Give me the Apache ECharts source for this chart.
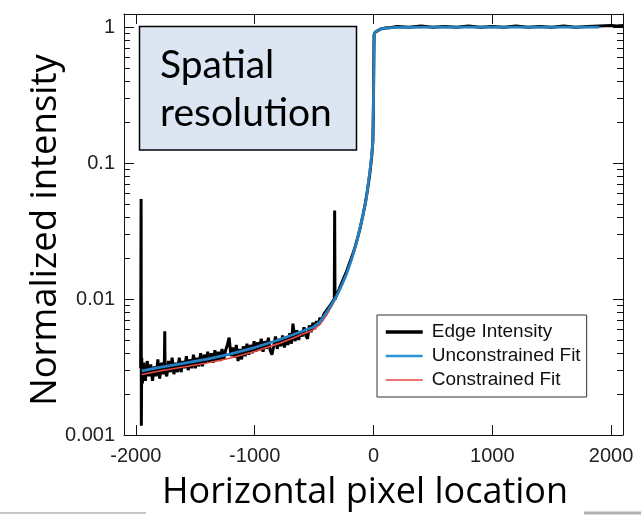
<!DOCTYPE html>
<html>
<head>
<meta charset="utf-8">
<script src="https://cdn.jsdelivr.net/npm/echarts@6/dist/echarts.min.js"></script>
<style>
  html, body { margin: 0; background: #fff; }
  #chart { width: 641px; height: 516px; }
</style>
</head>
<body>
<div id="chart"></div>
<script>
// tick positions
const xTicks = [-2000, -1000, 0, 1000, 2000];
const yTicks = [0.001, 0.01, 0.1, 1];
const yMinorTicks = [
  0.002, 0.003, 0.004, 0.005, 0.006, 0.007, 0.008, 0.009,
  0.02, 0.03, 0.04, 0.05, 0.06, 0.07, 0.08, 0.09,
  0.2, 0.3, 0.4, 0.5, 0.6, 0.7, 0.8, 0.9
];

// measured edge profile [pixel, intensity]
const edgeIntensity = [
  [-1960, 0.0031], [-1956, 0.0545], [-1954, 0.00117], [-1951, 0.0037], [-1945, 0.0024],
  [-1935, 0.0034], [-1920, 0.0025], [-1905, 0.0035], [-1890, 0.0027], [-1875, 0.0033],
  [-1860, 0.0025], [-1845, 0.0032], [-1830, 0.0027], [-1815, 0.0036], [-1800, 0.0026],
  [-1785, 0.0034], [-1770, 0.0028], [-1760, 0.0035], [-1757, 0.0058], [-1754, 0.0030],
  [-1740, 0.0027], [-1725, 0.0035], [-1710, 0.0029], [-1695, 0.0037], [-1680, 0.0028],
  [-1665, 0.0034], [-1650, 0.0029], [-1635, 0.0037], [-1620, 0.0029], [-1605, 0.0035],
  [-1590, 0.0031], [-1575, 0.0038], [-1560, 0.0030], [-1545, 0.0036], [-1530, 0.0031],
  [-1515, 0.0039], [-1500, 0.0031], [-1485, 0.0037], [-1470, 0.0032], [-1455, 0.0040],
  [-1440, 0.0032], [-1425, 0.0039], [-1410, 0.0034], [-1395, 0.0041], [-1380, 0.0034],
  [-1365, 0.0040], [-1350, 0.0034], [-1335, 0.0042], [-1320, 0.0035], [-1305, 0.0041],
  [-1290, 0.0035], [-1275, 0.0043], [-1260, 0.0036], [-1245, 0.0042], [-1230, 0.0046],
  [-1215, 0.0052], [-1200, 0.0038], [-1185, 0.0044], [-1170, 0.0037], [-1155, 0.0046],
  [-1140, 0.0035], [-1125, 0.0043], [-1110, 0.0036], [-1095, 0.0045], [-1080, 0.0038],
  [-1065, 0.0047], [-1050, 0.0039], [-1035, 0.0046], [-1020, 0.0040], [-1005, 0.0049],
  [-990, 0.0041], [-975, 0.0048], [-960, 0.0042], [-945, 0.0051], [-930, 0.0041],
  [-915, 0.0049], [-900, 0.0043], [-885, 0.0052], [-870, 0.0042], [-855, 0.0039],
  [-840, 0.0045], [-825, 0.0053], [-810, 0.0043], [-795, 0.0051], [-780, 0.0045],
  [-765, 0.0054], [-750, 0.0044], [-735, 0.0052], [-720, 0.0046], [-705, 0.0056],
  [-690, 0.0047], [-678, 0.0066], [-660, 0.0049], [-645, 0.0059], [-630, 0.0050],
  [-615, 0.0058], [-600, 0.0053], [-585, 0.0062], [-570, 0.0054], [-555, 0.0051],
  [-540, 0.0064], [-525, 0.0057], [-510, 0.0067], [-495, 0.0060], [-480, 0.0069],
  [-465, 0.0064], [-450, 0.0073], [-435, 0.0069], [-420, 0.0077], [-405, 0.0076],
  [-390, 0.0084], [-375, 0.0083], [-360, 0.0091], [-345, 0.0091], [-330, 0.0100],
  [-327, 0.0448], [-324, 0.0099], [-310, 0.0108], [-290, 0.0118], [-270, 0.0130],
  [-250, 0.0143], [-230, 0.0157], [-210, 0.0176], [-190, 0.0196], [-170, 0.0220],
  [-150, 0.0250], [-130, 0.0290], [-110, 0.0340], [-90, 0.0410], [-70, 0.0500],
  [-50, 0.0640], [-30, 0.0850], [-15, 0.112], [-5, 0.145], [0, 0.30],
  [3, 0.62], [5, 0.88], [15, 0.92], [30, 0.95], [60, 0.97],
  [100, 0.985], [150, 0.995], [200, 1.01], [300, 1.0], [400, 1.02],
  [500, 1.0], [600, 1.01], [700, 1.0], [800, 1.02], [900, 1.0],
  [1000, 1.01], [1100, 1.0], [1200, 1.02], [1300, 1.0], [1400, 1.01],
  [1500, 1.0], [1600, 1.02], [1700, 1.0], [1800, 1.01], [1900, 1.02],
  [2000, 1.03], [2050, 1.02], [2100, 1.03]
];

const unconstrainedFit = [
  [-1950, 0.00296], [-1800, 0.00314], [-1600, 0.00337], [-1400, 0.00362], [-1200, 0.00395],
  [-1000, 0.0044], [-800, 0.0050], [-680, 0.00546], [-600, 0.0058], [-510, 0.0062],
  [-450, 0.0068], [-395, 0.0080], [-350, 0.0092], [-310, 0.0106], [-270, 0.0125],
  [-227, 0.0153], [-185, 0.0195], [-143, 0.026], [-115, 0.033], [-87, 0.042],
  [-60, 0.055], [-45, 0.070], [-30, 0.088], [-15, 0.115], [-5, 0.145],
  [0, 0.30], [3, 0.62], [5, 0.87], [15, 0.92], [30, 0.95],
  [60, 0.97], [100, 0.985], [200, 0.995], [500, 1.0], [1000, 1.0],
  [1500, 1.0], [1900, 1.0]
];

const constrainedFit = [
  [-1950, 0.00279], [-1800, 0.00296], [-1600, 0.00316], [-1400, 0.00339], [-1200, 0.00368],
  [-1000, 0.00412], [-800, 0.0047], [-680, 0.00515], [-600, 0.0055], [-510, 0.0059],
  [-450, 0.0065], [-395, 0.0076], [-350, 0.0089], [-310, 0.0104], [-270, 0.0124],
  [-227, 0.0152], [-185, 0.0194], [-143, 0.026], [-115, 0.033], [-87, 0.042],
  [-60, 0.055], [-45, 0.070], [-30, 0.088], [-15, 0.115], [-5, 0.145],
  [0, 0.30], [3, 0.62], [5, 0.87], [15, 0.92], [30, 0.95],
  [60, 0.97], [100, 0.985], [200, 0.995], [500, 1.0], [1000, 1.0],
  [1500, 1.0], [1900, 1.0]
];

const tickFont = 'Liberation Sans';
const titleFont = 'Open Sans';

function logAxis(position, opts) {
  return Object.assign({
    type: 'log',
    logBase: 10,
    min: 0.001,
    max: 1.25,
    position: position,
    axisLine: { show: true, onZero: false, lineStyle: { color: '#111', width: 1 } },
    splitLine: { show: false },
    axisLabel: { show: false },
    axisTick: { show: true, inside: true, length: 10, customValues: yTicks, lineStyle: { color: '#111' } }
  }, opts);
}

const chart = echarts.init(document.getElementById('chart'));

chart.setOption({
  animation: false,
  backgroundColor: '#fff',
  grid: { left: 124, right: 18, top: 14, bottom: 81, outerBoundsMode: 'none' },
  xAxis: [
    {
      type: 'value',
      min: -2100,
      max: 2100,
      position: 'bottom',
      name: 'Horizontal pixel location',
      nameLocation: 'middle',
      nameGap: 40,
      nameMoveOverlap: false,
      nameTextStyle: { fontFamily: titleFont, fontSize: 36, color: '#000', padding: [0, 17, 0, 0] },
      axisLine: { onZero: false, lineStyle: { color: '#111', width: 1 } },
      axisTick: { inside: true, length: 10, customValues: xTicks, lineStyle: { color: '#111' } },
      axisLabel: {
        customValues: xTicks,
        fontFamily: tickFont,
        fontSize: 20,
        color: '#222',
        margin: 11,
        formatter: (v) => String(v)
      },
      splitLine: { show: false }
    },
    {
      type: 'value',
      min: -2100,
      max: 2100,
      position: 'top',
      axisLine: { onZero: false, lineStyle: { color: '#111', width: 1 } },
      axisTick: { inside: true, length: 10, customValues: xTicks, lineStyle: { color: '#111' } },
      axisLabel: { show: false },
      splitLine: { show: false }
    }
  ],
  yAxis: [
    logAxis('left', {
      name: 'Normalized intensity',
      nameLocation: 'middle',
      nameGap: 60,
      nameMoveOverlap: false,
      nameTextStyle: { fontFamily: titleFont, fontSize: 36.5, color: '#000', padding: [0, 11, 0, 0] },
      axisLabel: {
        show: true,
        customValues: yTicks,
        fontFamily: tickFont,
        fontSize: 20,
        color: '#222',
        margin: 9,
        formatter: (v) => String(Number(v.toPrecision(3)))
      }
    }),
    logAxis('left', {
      axisLine: { show: false, onZero: false },
      axisTick: { show: true, inside: true, length: 6, customValues: yMinorTicks, lineStyle: { color: '#111' } }
    }),
    logAxis('right', {}),
    logAxis('right', {
      axisLine: { show: false, onZero: false },
      axisTick: { show: true, inside: true, length: 6, customValues: yMinorTicks, lineStyle: { color: '#111' } }
    })
  ],
  legend: {
    orient: 'vertical',
    left: 377,
    top: 315,
    padding: [5, 6, 5, 7],
    itemGap: 0,
    itemWidth: 37,
    itemHeight: 14,
    backgroundColor: '#fff',
    borderColor: '#333',
    borderWidth: 1,
    itemStyle: { opacity: 0 },
    textStyle: { fontFamily: tickFont, fontSize: 19, color: '#111', lineHeight: 24, padding: [0, 0, 0, 4] },
    data: [
      { name: 'Edge Intensity', lineStyle: { width: 3.5, color: '#000' } },
      { name: 'Unconstrained Fit', lineStyle: { width: 2.5, color: '#2a96d6' } },
      { name: 'Constrained Fit', lineStyle: { width: 2, color: '#f07070' } }
    ]
  },
  series: [
    {
      name: 'Edge Intensity',
      type: 'line',
      data: edgeIntensity,
      symbol: 'none',
      lineStyle: { color: '#000', width: 3 },
      itemStyle: { color: '#000' },
      z: 2
    },
    {
      name: 'Constrained Fit',
      type: 'line',
      data: constrainedFit,
      symbol: 'none',
      lineStyle: { color: '#ee4a44', width: 1.6 },
      itemStyle: { color: '#f07070' },
      z: 3
    },
    {
      name: 'Unconstrained Fit',
      type: 'line',
      data: unconstrainedFit,
      symbol: 'none',
      lineStyle: { color: '#2580c3', width: 2.8 },
      itemStyle: { color: '#2a96d6' },
      z: 4
    }
  ],
  graphic: [
    {
      type: 'rect',
      shape: { x: 139.5, y: 26.5, width: 217, height: 123.5 },
      style: { fill: '#dce6f2', stroke: '#000', lineWidth: 1.5 },
      z: 10
    },
    {
      type: 'text',
      style: { text: 'Spatial', x: 160, y: 65, font: '39px Lato', fill: '#000', verticalAlign: 'middle' },
      z: 11
    },
    {
      type: 'text',
      style: { text: 'resolution', x: 160, y: 113, font: '39px Lato', fill: '#000', verticalAlign: 'middle' },
      z: 11
    },
    {
      type: 'line',
      shape: { x1: 0, y1: 513, x2: 146, y2: 513 },
      style: { stroke: '#c8c8c8', lineWidth: 2 }
    },
    {
      type: 'line',
      shape: { x1: 584, y1: 513, x2: 641, y2: 513 },
      style: { stroke: '#b0b0b0', lineWidth: 3 }
    }
  ]
});
</script>
</body>
</html>
